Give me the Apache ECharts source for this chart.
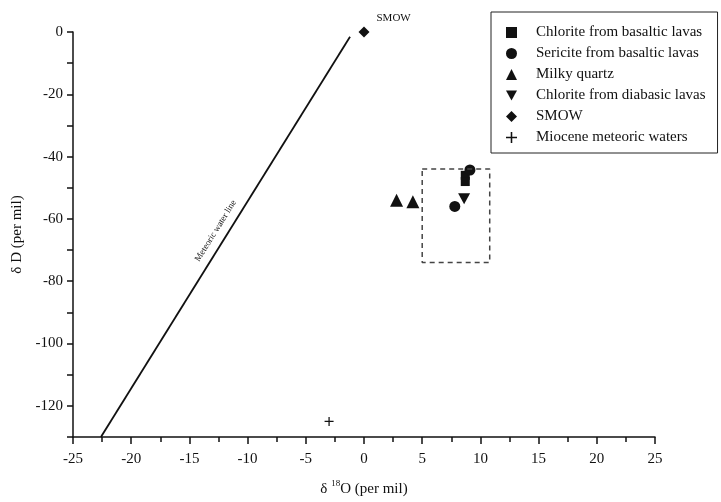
<!DOCTYPE html>
<html>
<head>
<meta charset="utf-8">
<script src="https://cdn.jsdelivr.net/npm/echarts@6/dist/echarts.min.js"></script>
<style>
  html, body { margin: 0; padding: 0; background: #fff; }
  #chart { width: 721px; height: 502px; }
</style>
</head>
<body>
<div id="chart"></div>
<script>
// values (δ18O, δD)
const chloriteBasaltic = [[8.7, -46], [8.7, -48]]
const sericiteBasaltic = [[9.1, -44.3], [7.8, -56]]
const milkyQuartz = [[2.8, -54], [4.2, -54.5]]
const chloriteDiabasic = [[8.6, -53.5]]
const smow = [[0, 0]]
const mioceneWaters = [[-3, -125]]
// meteoric water line ends and the dashed field box
const meteoricLine = [[-22.6, -130], [-1.2, -1.5]]
const fieldBox = [[5, -44], [10.8, -44], [10.8, -74], [5, -74], [5, -44]]

const font = "'Liberation Serif', 'Times New Roman', serif"
const ink = '#111'

const downTriangle = 'path://M0,0L10,0L5,9Z'
const plus = 'path://M4.3,0H5.7V4.3H10V5.7H5.7V10H4.3V5.7H0V4.3H4.3Z'

const chart = echarts.init(document.getElementById('chart'))

const option = {
  animation: false,
  textStyle: { fontFamily: font, color: ink },
  grid: { left: 73, right: 66, top: 32, bottom: 62 },
  legend: {
    orient: 'vertical',
    left: 491,
    top: 12,
    padding: [13, 12, 8, 15],
    itemWidth: 11,
    itemHeight: 11,
    itemGap: 6,
    borderColor: '#222',
    borderWidth: 1,
    textStyle: { fontFamily: font, fontSize: 15, color: ink, padding: [0, 0, 0, 14] },
    data: [
      { name: 'Chlorite from basaltic lavas', icon: 'rect' },
      { name: 'Sericite from basaltic lavas', icon: 'circle' },
      { name: 'Milky quartz', icon: 'triangle' },
      { name: 'Chlorite from diabasic lavas', icon: downTriangle },
      { name: 'SMOW', icon: 'diamond' },
      { name: 'Miocene meteoric waters', icon: plus }
    ]
  },
  xAxis: {
    type: 'value',
    min: -25, max: 25, interval: 5,
    name: '{a|δ }{sup|18}{a|O (per mil)}',
    nameLocation: 'middle',
    nameGap: 42,
    nameTextStyle: {
      rich: {
        a: { fontFamily: font, fontSize: 15, color: ink, lineHeight: 18, verticalAlign: 'bottom' },
        sup: { fontFamily: font, fontSize: 9, color: ink, lineHeight: 10, verticalAlign: 'top' }
      }
    },
    axisLine: { onZero: false, lineStyle: { color: ink, width: 1.5 } },
    axisTick: { length: 7, lineStyle: { color: ink, width: 1.5 } },
    minorTick: { show: true, splitNumber: 2, length: 5, lineStyle: { color: ink, width: 1.5 } },
    axisLabel: { fontFamily: font, fontSize: 15, color: ink, margin: 15 },
    splitLine: { show: false }
  },
  yAxis: {
    type: 'value',
    min: -130, max: 0, interval: 10,
    name: 'δ D (per mil)',
    nameLocation: 'middle',
    nameGap: 46,
    nameTextStyle: { fontFamily: font, fontSize: 15, color: ink },
    axisLine: { onZero: false, lineStyle: { color: ink, width: 1.5 } },
    axisTick: { length: 6, lineStyle: { color: ink, width: 1.5 } },
    axisLabel: {
      fontFamily: font, fontSize: 15, color: ink, margin: 10,
      formatter: v => (v % 20 === 0 ? String(v) : '')
    },
    splitLine: { show: false }
  },
  series: [
    {
      name: 'field',
      type: 'line',
      data: fieldBox,
      symbol: 'none',
      silent: true,
      lineStyle: { color: '#444', width: 1.5, type: [5, 4] }
    },
    {
      name: 'meteoric',
      type: 'line',
      data: [],
      markLine: {
        silent: true,
        symbol: 'none',
        lineStyle: { color: ink, width: 1.8, type: 'solid' },
        label: {
          show: true,
          position: 'middle',
          distance: 7,
          formatter: 'Meteoric water line',
          fontFamily: font,
          fontSize: 9,
          color: ink
        },
        data: [[{ coord: meteoricLine[0] }, { coord: meteoricLine[1] }]]
      }
    },
    {
      name: 'Chlorite from basaltic lavas',
      type: 'scatter',
      data: chloriteBasaltic,
      symbol: 'rect',
      symbolSize: 9,
      itemStyle: { color: ink, opacity: 1 }
    },
    {
      name: 'Sericite from basaltic lavas',
      type: 'scatter',
      data: sericiteBasaltic,
      symbol: 'circle',
      symbolSize: 11,
      itemStyle: { color: ink, opacity: 1 }
    },
    {
      name: 'Milky quartz',
      type: 'scatter',
      data: milkyQuartz,
      symbol: 'triangle',
      symbolSize: 13,
      itemStyle: { color: ink, opacity: 1 }
    },
    {
      name: 'Chlorite from diabasic lavas',
      type: 'scatter',
      data: chloriteDiabasic,
      symbol: downTriangle,
      symbolSize: [12, 11],
      itemStyle: { color: ink, opacity: 1 }
    },
    {
      name: 'SMOW',
      type: 'scatter',
      data: smow,
      symbol: 'diamond',
      symbolSize: 11,
      clip: false,
      itemStyle: { color: ink, opacity: 1 },
      label: {
        show: true,
        position: 'right',
        offset: [2, -14],
        formatter: 'SMOW',
        fontFamily: font,
        fontSize: 11,
        color: ink
      }
    },
    {
      name: 'Miocene meteoric waters',
      type: 'scatter',
      data: mioceneWaters,
      symbol: plus,
      symbolSize: 9,
      itemStyle: { color: ink, opacity: 1 }
    }
  ]
}

chart.setOption(option)
</script>
</body>
</html>
